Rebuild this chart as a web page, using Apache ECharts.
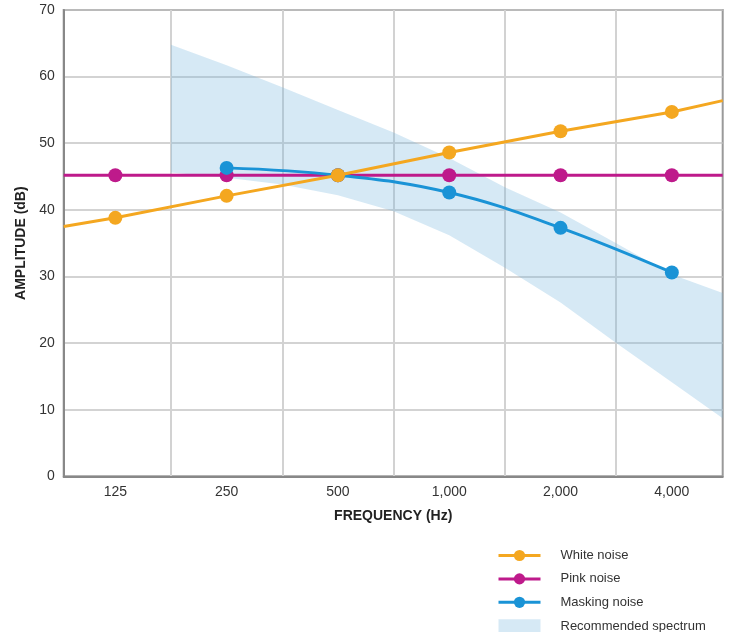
<!DOCTYPE html>
<html>
<head>
<meta charset="utf-8">
<script src="https://cdn.jsdelivr.net/npm/echarts@6/dist/echarts.min.js"></script>
<style>html,body{margin:0;padding:0;background:#fff;}#c{width:739px;height:632px;}</style>
</head>
<body>
<div id="c"></div>
<script>
// Categories (octave bands) — x position = index in this list
var categories = ['125', '250', '500', '1,000', '2,000', '4,000'];
// Series values (dB) at each category
var whiteNoise   = [38.8, 42.1, 45.2, 48.6, 51.8, 54.7];
var pinkNoise    = [45.2, 45.2, 45.2, 45.2, 45.2, 45.2];
var maskingNoise = [null, 46.3, 45.2, 42.6, 37.3, 30.6];
// Values where the straight lines meet the left / right plot edges
var whiteEdges = [37.5, 56.4];
var pinkEdges  = [45.2, 45.2];
// Recommended spectrum band (x in category-index units)
var bandX    = [0.5, 1, 1.5, 2, 2.5, 3, 3.5, 4, 4.5, 5, 5.457];
var bandLow  = [45.6, 44.8, 43.8, 42.2, 39.8, 36.2, 31.3, 26.1, 20.0, 14.1, 8.7];
var bandHigh = [64.8, 61.7, 58.4, 55.0, 51.6, 47.8, 43.4, 39.6, 35.0, 30.3, 27.5];
// Axis ticks
var yTicks = [0, 10, 20, 30, 40, 50, 60, 70];
var xMin = -0.464, xMax = 5.457;

var FONT = '"Liberation Sans", Arial, Helvetica, sans-serif';
var WHITE = '#f4a720', PINK = '#be1a8b', BLUE = '#1a93d6';
var BAND = 'rgba(118,182,222,0.3)';

function pts(arr) {
  var out = [];
  arr.forEach(function (v, i) { if (v != null) out.push([i, v]); });
  return out;
}
function withEdges(arr, edges) {
  var d = pts(arr);
  d.unshift({ value: [xMin, edges[0]], symbol: 'none' });
  d.push({ value: [xMax, edges[1]], symbol: 'none' });
  return d;
}
var boundaries = [];
for (var b = 0; b < categories.length - 1; b++) boundaries.push(b + 0.5);
var labelPos = categories.map(function (c, i) { return i; });

var chart = echarts.init(document.getElementById('c'), null, { renderer: 'canvas' });
chart.setOption({
  animation: false,
  backgroundColor: '#fff',
  textStyle: { fontFamily: FONT },
  grid: {
    left: 63.7, right: 16.3, top: 10, bottom: 155.7,
    show: true, borderColor: '#9a9a9a', borderWidth: 2,
    containLabel: false, outerBoundsMode: 'none'
  },
  legend: {
    orient: 'vertical', left: 492, top: 544, height: 140,
    itemWidth: 42, itemHeight: 14, itemGap: 10.4,
    lineStyle: { width: 3 },
    textStyle: { fontFamily: FONT, fontSize: 13, color: '#333', padding: [0, 0, 0, 15] },
    data: [
      { name: 'White noise' },
      { name: 'Pink noise' },
      { name: 'Masking noise' },
      { name: 'Recommended spectrum', icon: 'rect' }
    ]
  },
  xAxis: {
    type: 'value', min: xMin, max: xMax,
    name: 'FREQUENCY (Hz)', nameLocation: 'middle', nameGap: 33,
    nameTextStyle: { fontFamily: FONT, fontSize: 14, fontWeight: 'bold', color: '#222' },
    axisLine: { show: true, onZero: false, lineStyle: { color: '#888', width: 2 } },
    axisTick: { show: false, customValues: boundaries },
    axisLabel: {
      customValues: labelPos, fontSize: 14, color: '#333', margin: 9, fontFamily: FONT,
      formatter: function (v) { return categories[Math.round(v)]; }
    },
    splitLine: { show: true, lineStyle: { color: '#d2d2d2', width: 2 } }
  },
  yAxis: {
    type: 'value', min: yTicks[0], max: yTicks[yTicks.length - 1], interval: 10,
    name: 'AMPLITUDE (dB)', nameLocation: 'middle', nameGap: 36,
    nameTextStyle: { fontFamily: FONT, fontSize: 14, fontWeight: 'bold', color: '#222' },
    axisLine: { show: true, onZero: false, lineStyle: { color: '#888', width: 2 } },
    axisTick: { show: false },
    axisLabel: { fontSize: 14, color: '#333', margin: 9, fontFamily: FONT },
    splitLine: { show: true, lineStyle: { color: '#c4c4c4', width: 1.5 } }
  },
  series: [
    {
      name: 'Recommended spectrum', type: 'custom', silent: true, z: 1, clip: true,
      itemStyle: { color: BAND },
      data: [[bandX[0], bandLow[0]]],
      renderItem: function (params, api) {
        var poly = [];
        for (var i = 0; i < bandX.length; i++) poly.push(api.coord([bandX[i], bandHigh[i]]));
        for (var j = bandX.length - 1; j >= 0; j--) poly.push(api.coord([bandX[j], bandLow[j]]));
        return {
          type: 'polygon',
          shape: { points: poly },
          style: { fill: BAND }
        };
      }
    },
    {
      name: 'Pink noise', type: 'line', symbol: 'circle', symbolSize: 14,
      itemStyle: { color: PINK }, lineStyle: { color: PINK, width: 3 }, z: 3,
      data: withEdges(pinkNoise, pinkEdges)
    },
    {
      name: 'Masking noise', type: 'line', symbol: 'circle', symbolSize: 14, smooth: 0.4,
      itemStyle: { color: BLUE }, lineStyle: { color: BLUE, width: 3 }, z: 4,
      data: pts(maskingNoise)
    },
    {
      name: 'White noise', type: 'line', symbol: 'circle', symbolSize: 14,
      itemStyle: { color: WHITE }, lineStyle: { color: WHITE, width: 3 }, z: 5,
      data: withEdges(whiteNoise, whiteEdges)
    }
  ]
});
</script>
</body>
</html>
